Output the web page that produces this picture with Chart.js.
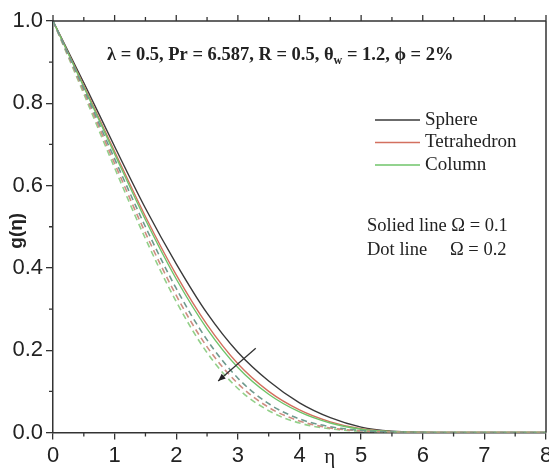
<!DOCTYPE html>
<html>
<head>
<meta charset="utf-8">
<script src="https://cdn.jsdelivr.net/npm/chart.js@4.4.1/dist/chart.umd.min.js"></script>
<style>
  html, body { margin: 0; padding: 0; background: #fff; }
  #wrap { width: 549px; height: 470px; }
</style>
</head>
<body>
<div id="wrap"><canvas id="c" width="549" height="470"></canvas></div>
<script>
// ---- data ----
const etaValues   = [0, 0.5, 1, 1.5, 2, 2.5, 3, 3.5, 4, 4.5, 5, 5.5, 6, 6.5, 7, 7.5, 8];
const sphereSolid = [1.0, 0.850, 0.695, 0.545, 0.410, 0.290, 0.195, 0.125, 0.072, 0.036, 0.013, 0.003, 0.0005, 0, 0, 0, 0];
const tetraSolid  = [1.0, 0.843, 0.683, 0.525, 0.383, 0.262, 0.167, 0.100, 0.055, 0.026, 0.009, 0.002, 0, 0, 0, 0, 0];
const columnSolid = [1.0, 0.840, 0.677, 0.517, 0.373, 0.252, 0.158, 0.093, 0.050, 0.023, 0.008, 0.002, 0, 0, 0, 0, 0];
const sphereDot   = [1.0, 0.835, 0.665, 0.500, 0.350, 0.225, 0.132, 0.070, 0.033, 0.014, 0.005, 0.001, 0, 0, 0, 0, 0];
const tetraDot    = [1.0, 0.829, 0.654, 0.485, 0.333, 0.208, 0.119, 0.061, 0.028, 0.011, 0.004, 0.001, 0, 0, 0, 0, 0];
const columnDot   = [1.0, 0.823, 0.643, 0.471, 0.318, 0.194, 0.107, 0.053, 0.023, 0.009, 0.003, 0.001, 0, 0, 0, 0, 0];
const shapeNames  = ["Sphere", "Tetrahedron", "Column"];
const xTickLabels = ["0", "1", "2", "3", "4", "5", "6", "7", "8"];
const yTickLabels = ["0.0", "0.2", "0.4", "0.6", "0.8", "1.0"];
const arrowFrom   = [3.29, 0.205];
const arrowTo     = [2.68, 0.125];
const paramText   = ["λ = 0.5, Pr = 6.587, R = 0.5, θ", "w", " = 1.2, ϕ = 2%"];
const omegaLines  = [["Solied line", "Ω = 0.1"], ["Dot line", "Ω = 0.2"]];

const colSphere = "#3a3a3a", colTetra = "#d3705f", colColumn = "#6fc46a";
const colSphereD = "#6e9a8e", colTetraD = "#cf8d82", colColumnD = "#93d08a";

function pts(arr) { return etaValues.map((x, i) => ({ x: x, y: arr[i] })); }
function ds(label, arr, color, dashed) {
  return {
    label: label, data: pts(arr), borderColor: color, backgroundColor: color,
    borderWidth: dashed ? 1.6 : 1.4, borderDash: dashed ? [6, 4] : [],
    pointRadius: 0, fill: false, cubicInterpolationMode: "monotone"
  };
}

const datasets = [
  ds(shapeNames[0] + " Ω=0.2", sphereDot, colSphereD, true),
  ds(shapeNames[1] + " Ω=0.2", tetraDot, colTetraD, true),
  ds(shapeNames[2] + " Ω=0.2", columnDot, colColumnD, true),
  ds(shapeNames[2], columnSolid, colColumn, false),
  ds(shapeNames[1], tetraSolid, colTetra, false),
  ds(shapeNames[0], sphereSolid, colSphere, false)
];

const axisColor = "#333";
const tickFont = { family: "Liberation Sans, Arial, sans-serif", size: 22 };
const serif = "'Liberation Serif', 'Times New Roman', serif";

const decor = {
  id: "decor",
  afterDraw(chart) {
    const ctx = chart.ctx, a = chart.chartArea;
    const xs = chart.scales.x, ys = chart.scales.y;
    ctx.save();
    ctx.strokeStyle = axisColor;
    ctx.lineWidth = 1.5;
    // top and right frame
    ctx.beginPath();
    ctx.moveTo(a.left, a.top); ctx.lineTo(a.right, a.top);
    ctx.moveTo(a.right, a.top); ctx.lineTo(a.right, a.bottom);
    ctx.stroke();
    ctx.lineWidth = 1.3;
    ctx.beginPath();
    // top ticks (major + minor, outward)
    for (let v = 0; v <= 8.001; v += 0.5) {
      const px = xs.getPixelForValue(v);
      const len = Math.abs(v - Math.round(v)) < 1e-6 ? 6 : 4;
      ctx.moveTo(px, a.top); ctx.lineTo(px, a.top - len);
    }
    // bottom minor ticks
    for (let v = 0.5; v < 8; v += 1) {
      const px = xs.getPixelForValue(v);
      ctx.moveTo(px, a.bottom); ctx.lineTo(px, a.bottom + 4);
    }
    // left minor ticks
    for (let v = 0.1; v < 1; v += 0.2) {
      const py = ys.getPixelForValue(v);
      ctx.moveTo(a.left, py); ctx.lineTo(a.left - 4, py);
    }
    ctx.stroke();

    // eta label on x axis
    ctx.fillStyle = "#222";
    ctx.font = "21px " + serif;
    ctx.textAlign = "center"; ctx.textBaseline = "middle";
    ctx.fillText("η", xs.getPixelForValue(4.49), 457);

    // y title
    ctx.save();
    ctx.translate(17, (a.top + a.bottom) / 2 + 4);
    ctx.rotate(-Math.PI / 2);
    ctx.font = "bold 19px 'Liberation Sans', Arial, sans-serif";
    ctx.fillText("g(η)", 0, 0);
    ctx.restore();

    // parameter text with subscript
    ctx.textAlign = "left"; ctx.textBaseline = "alphabetic";
    const bigF = "bold 18.5px " + serif;
    const subF = "bold 12px " + serif;
    let x0 = 107, yb = 60;
    ctx.font = bigF; ctx.fillText(paramText[0], x0, yb); x0 += ctx.measureText(paramText[0]).width;
    ctx.font = subF; ctx.fillText(paramText[1], x0, yb + 4); x0 += ctx.measureText(paramText[1]).width;
    ctx.font = bigF; ctx.fillText(paramText[2], x0, yb);

    // legend
    ctx.font = "19px " + serif;
    ctx.textBaseline = "middle";
    const legendCols = [colSphere, colTetra, colColumn];
    shapeNames.forEach((n, i) => {
      const y = 120 + i * 22.5;
      ctx.strokeStyle = legendCols[i]; ctx.lineWidth = 1.4;
      ctx.beginPath(); ctx.moveTo(375, y); ctx.lineTo(420, y); ctx.stroke();
      ctx.fillStyle = "#222";
      ctx.fillText(n, 425, y);
    });
    // omega notes
    ctx.font = "18.5px " + serif;
    ctx.fillText(omegaLines[0][0] + " " + omegaLines[0][1], 367, 226);
    ctx.fillText(omegaLines[1][0], 367, 250);
    ctx.fillText(omegaLines[1][1], 450, 250);

    // arrow
    const x1 = xs.getPixelForValue(arrowFrom[0]), y1 = ys.getPixelForValue(arrowFrom[1]);
    const x2 = xs.getPixelForValue(arrowTo[0]), y2 = ys.getPixelForValue(arrowTo[1]);
    ctx.strokeStyle = "#333"; ctx.fillStyle = "#222"; ctx.lineWidth = 1.3;
    ctx.beginPath(); ctx.moveTo(x1, y1); ctx.lineTo(x2, y2); ctx.stroke();
    const ang = Math.atan2(y2 - y1, x2 - x1), L = 8, W = 0.4;
    ctx.beginPath();
    ctx.moveTo(x2, y2);
    ctx.lineTo(x2 - L * Math.cos(ang - W), y2 - L * Math.sin(ang - W));
    ctx.lineTo(x2 - L * Math.cos(ang + W), y2 - L * Math.sin(ang + W));
    ctx.closePath(); ctx.fill();
    ctx.restore();
  }
};

new Chart(document.getElementById("c"), {
  type: "line",
  data: { datasets: datasets },
  options: {
    responsive: false, animation: false, devicePixelRatio: 1,
    layout: { padding: { top: 21, right: 3, left: 0, bottom: 0 } },
    plugins: { legend: { display: false }, tooltip: { enabled: false } },
    scales: {
      x: {
        type: "linear", min: 0, max: 8,
        ticks: { stepSize: 1, font: tickFont, color: "#222", padding: 3,
                 callback: (v) => xTickLabels[Math.round(v)] ?? "" , maxRotation: 0, autoSkip: false },
        grid: { display: true, drawOnChartArea: false, drawTicks: true, tickLength: 7, color: axisColor, lineWidth: 1.3 },
        border: { display: true, color: axisColor, width: 1.5 },
        afterFit(s) { s.height = 37.5; s.paddingLeft = 0; s.paddingRight = 0; }
      },
      y: {
        type: "linear", min: 0, max: 1,
        ticks: { stepSize: 0.2, font: tickFont, color: "#222", padding: 3,
                 callback: (v) => yTickLabels[Math.round(v * 5)] ?? "" },
        grid: { display: true, drawOnChartArea: false, drawTicks: true, tickLength: 7, color: axisColor, lineWidth: 1.3 },
        border: { display: true, color: axisColor, width: 1.5 },
        afterFit(s) { s.width = 53; s.paddingTop = 0; s.paddingBottom = 0; }
      }
    }
  },
  plugins: [decor]
});
</script>
</body>
</html>
